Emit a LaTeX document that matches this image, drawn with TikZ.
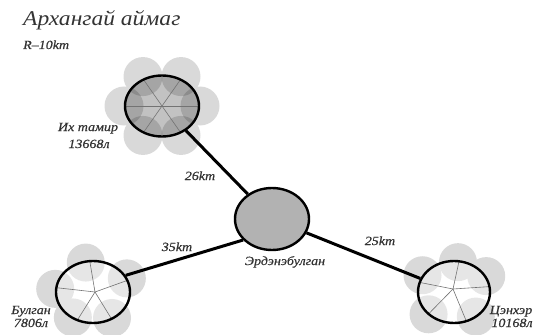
\documentclass[tikz,border=0pt]{standalone}
\usepackage{fontspec}
\setmainfont{Liberation Serif}
\newfontfamily\labfont[FakeStretch=1.12, FakeBold=0.5]{Liberation Serif}
\newfontfamily\titlefont[FakeStretch=1.12]{Liberation Serif}
\usetikzlibrary{shapes.geometric}
\tikzset{
  petal/.style={fill=black!15},
  spoke/.style={draw=black!55, line width=0.6pt},
  town/.style={draw=black, line width=2.4pt, ellipse, inner sep=0pt},
  road/.style={draw=black, line width=3pt},
  lab/.style={font=\labfont\itshape\fontsize{12.5}{13}\selectfont, inner sep=0pt, text=black!80},
}
\begin{document}
\begin{tikzpicture}[x=1pt,y=-1pt]
\useasboundingbox (0,0) rectangle (537,334);
% ---- top cluster (Их тамир)
\begin{scope}[shift={(162,106)}, yscale=-1]
  \foreach \a in {0,60,...,300} \fill[petal] (\a:38 and 34) circle (19.5pt);
  \fill[black!24] (0,0) ellipse (37pt and 30.5pt);
  \begin{scope}
    \clip (0,0) ellipse (37pt and 30.5pt);
    \foreach \a in {0,60,...,300} \fill[black, opacity=.15] (\a:38 and 34) circle (19.5pt);
  \end{scope}
  \foreach \a in {0,60,120} \draw[spoke] (\a:37 and 30.5) -- (\a+180:37 and 30.5);
\end{scope}
\node[town, minimum width=74pt, minimum height=61pt] (T) at (162,106) {};
% ---- bottom left cluster (Булган)
\begin{scope}[shift={(93,292)}, yscale=-1]
  \foreach \a in {101,174,238,300,27} \fill[petal] (\a:38 and 30) circle (19pt);
  \fill[white, opacity=.35] (0,0) ellipse (37pt and 31pt);
  \foreach \a in {95,172,245,300,22} \draw[spoke] (2,0) -- (\a:37 and 31);
\end{scope}
\node[town, minimum width=74pt, minimum height=62pt] (L) at (93,292) {};
% ---- bottom right cluster (Цэнхэр)
\begin{scope}[shift={(454,292)}, yscale=-1]
  \foreach \a in {84,146,228,305,32} \fill[petal] (\a:38 and 30) circle (19pt);
  \fill[white, opacity=.35] (0,0) ellipse (36pt and 31pt);
  \foreach \a in {82,162,225,290,10} \draw[spoke] (-1,3) -- (\a:36 and 31);
\end{scope}
\node[town, minimum width=72pt, minimum height=62pt] (R) at (454,292) {};
% ---- centre
\node[town, fill=black!30, minimum width=74pt, minimum height=62pt] (C) at (272,219) {};
% ---- roads
\draw[road] (T) -- (C);
\draw[road] (L.27) -- (C.216);
\draw[road] (R) -- (C);
% ---- labels
\node[anchor=base west, inner sep=0pt, font=\titlefont\itshape\fontsize{21}{22}\selectfont, text=black!80] (title) at (23,26) {Архангай аймаг};
\node[lab, anchor=base west] (rad) at (23,49) {R–10km};
\node[lab, anchor=base] (l1a) at (88,131) {Их тамир};
\node[lab, anchor=base] (l1b) at (89,148) {13668л};
\node[lab, anchor=base] (d1) at (200,180) {26km};
\node[lab, anchor=base] (d2) at (177,251) {35km};
\node[lab, anchor=base] (d3) at (380,245) {25km};
\node[lab, anchor=base] (cl) at (285,265) {Эрдэнэбулган};
\node[lab, anchor=base] (l2a) at (31,314) {Булган};
\node[lab, anchor=base] (l2b) at (31,327) {7806л};
\node[lab, anchor=base] (l3a) at (511,314) {Цэнхэр};
\node[lab, anchor=base] (l3b) at (512,327) {10168л};
\end{tikzpicture}
\end{document}
